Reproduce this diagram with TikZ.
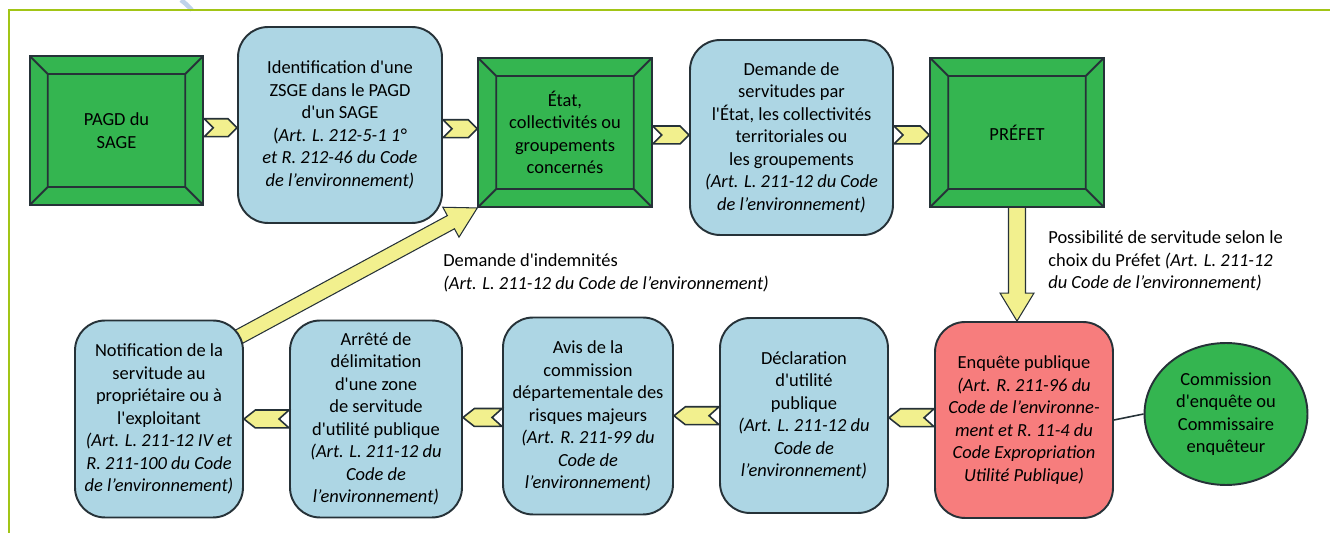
\documentclass[tikz,border=0pt]{standalone}
\usepackage{fontspec}
\setmainfont{Carlito}[Ligatures=TeXOff]
\usetikzlibrary{calc,shapes.geometric,backgrounds}

\definecolor{boxgreen}{HTML}{34B550}
\definecolor{boxblue}{HTML}{ADD6E4}
\definecolor{boxred}{HTML}{F77D7D}
\definecolor{pale}{HTML}{F2F08E}
\definecolor{framegreen}{HTML}{A2C516}
\definecolor{edge}{HTML}{263238}
\definecolor{swirl}{HTML}{BFD3EA}

\tikzset{
  every node/.style={font=\fontsize{10.5}{12.8}\selectfont, inner sep=0pt, align=center},
  bevel/.style={draw=edge, fill=boxgreen, line width=1.1pt,
    minimum width=3.47cm, minimum height=2.98cm,
    path picture={\draw[edge, line width=1.1pt]
      ([shift={(.36cm,-.36cm)}]path picture bounding box.north west) rectangle
      ([shift={(-.36cm,.36cm)}]path picture bounding box.south east)
      (path picture bounding box.north west) -- ++(.36cm,-.36cm)
      (path picture bounding box.north east) -- ++(-.36cm,-.36cm)
      (path picture bounding box.south west) -- ++(.36cm,.36cm)
      (path picture bounding box.south east) -- ++(-.36cm,.36cm);}},
  stage/.style={draw=edge, fill=boxblue, line width=1.1pt, rounded corners=.6cm,
    minimum width=3.4cm, minimum height=3.94cm},
  chev/.style={draw=edge, fill=pale, line width=.9pt, line join=miter},
  bigarrow/.style={draw=edge, fill=pale, line width=.6pt},
}

\begin{document}
\begin{tikzpicture}[x=0.02cm, y=-0.02cm]
	\useasboundingbox (0,0) rectangle (1330,533);
	% frame
	\draw[swirl, line width=2.6pt] (181,0) .. controls (186,4) .. (192,10);
	\draw[framegreen, line width=1.7pt] (1330,10) -- (9,10) -- (9,533);

	% top row
	\node[bevel] (pagd) at (116.5,130.5) {PAGD du\\SAGE};
	\node[stage, minimum width=4.08cm, minimum height=3.92cm] (ident) at (340,125)
		{Identification d'une\\ZSGE dans le PAGD\\d'un SAGE\\(\textit{Art. L. 212-5-1 1°}\\\textit{et R. 212-46 du Code}\\\textit{de l’environnement)}};
	\node[bevel] (etat) at (565,132.5) {État,\\collectivités ou\\groupements\\concernés};
	\node[stage, minimum width=4.06cm, minimum height=3.9cm] (dem) at (791.5,137.5)
		{Demande de\\servitudes par\\l'État, les collectivités\\territoriales ou\\les groupements\\\textit{(Art. L. 211-12 du Code}\\\textit{de l’environnement)}};
	\node[bevel] (prefet) at (1017,132.5) {PRÉFET};

	% bottom row
	\node[stage, fill=boxred, minimum width=3.56cm, minimum height=3.92cm] (enq) at (1024,420)
		{Enquête publique\\\textit{(Art. R. 211-96 du}\\\textit{Code de l’environne-}\\\textit{ment et R. 11-4 du}\\\textit{Code Expropriation}\\\textit{Utilité Publique)}};
	\node[ellipse, draw=edge, fill=boxgreen, line width=1.1pt, minimum width=3.26cm, minimum height=2.84cm] (comm) at (1226,414)
		{Commission\\d'enquête ou\\Commissaire\\enquêteur};
	\node[stage, minimum width=3.36cm, minimum height=3.9cm] (decl) at (804,415.5)
		{Déclaration\\d'utilité\\publique\\\textit{(Art. L. 211-12 du}\\\textit{Code de}\\\textit{l’environnement)}};
	\node[stage] (avis) at (588,416)
		{Avis de la\\commission\\départementale des\\risques majeurs\\\textit{(Art. R. 211-99 du}\\\textit{Code de}\\\textit{l’environnement)}};
	\node[stage, minimum width=3.44cm] (arrete) at (376,419)
		{Arrêté de\\délimitation\\d'une zone\\de servitude\\d'utilité publique\\\textit{(Art. L. 211-12 du}\\\textit{Code de}\\\textit{l’environnement)}};
	\node[stage, minimum width=3.36cm] (notif) at (159,419)
		{Notification de la\\servitude au\\propriétaire ou à\\l'exploitant\\\textit{(Art. L. 211-12 IV et}\\\textit{R. 211-100 du Code}\\\textit{de l’environnement)}};

	% chevrons
	\foreach \a/\b in {pagd/ident, ident/etat, etat/dem, dem/prefet}
		\draw[chev] let \p1=(\a.east), \p2=(\b.west), \p3=($(\a.east)!.5!(\b.west)$) in
			(\x1,\y3+5.1pt) -- (\x2-5.1pt,\y3+5.1pt) -- (\x2,\y3) -- (\x2-5.1pt,\y3-5.1pt)
			-- (\x1,\y3-5.1pt) -- (\x1+5.1pt,\y3) -- cycle;
	\foreach \a/\b in {enq/decl, decl/avis, avis/arrete, arrete/notif}
		\draw[chev] let \p1=(\a.west), \p2=(\b.east), \p3=($(\a.west)!.5!(\b.east)$) in
			(\x1,\y3+5.1pt) -- (\x2+6.5pt,\y3+5.1pt) -- (\x2,\y3) -- (\x2+6.5pt,\y3-5.1pt)
			-- (\x1,\y3-5.1pt) -- (\x1-5.7pt,\y3) -- cycle;

	\draw[edge, line width=.9pt] (enq.east) -- (comm.west);

	% big arrows
	\coordinate (tip) at (prefet.south |- enq.north);
	\coordinate (down) at ($(tip)!.56cm!(prefet.center)$);
	\coordinate (start) at ($(etat.south west)!1.1!(notif.45)$);
	\coordinate (head) at ($(etat.south west)!.6cm!(notif.45)$);
	\begin{scope}[on background layer]
		\draw[bigarrow] ($(prefet.center)!.17cm!90:(tip)$) -- ($(down)!.17cm!-90:(prefet.center)$)
			-- ($(down)!.34cm!-90:(prefet.center)$) -- (tip) -- ($(down)!.34cm!90:(prefet.center)$)
			-- ($(down)!.17cm!90:(prefet.center)$) -- ($(prefet.center)!.17cm!-90:(tip)$) -- cycle;
		\draw[bigarrow] ($(start)!.15cm!90:(etat.south west)$) -- ($(head)!.15cm!-90:(start)$)
			-- ($(head)!.34cm!-90:(start)$) -- (etat.south west) -- ($(head)!.34cm!90:(start)$)
			-- ($(head)!.15cm!90:(start)$) -- ($(start)!.15cm!-90:(etat.south west)$) -- cycle;
	\end{scope}

	% labels
	\node[align=left, anchor=west] (choix) at (1048,261)
		{Possibilité de servitude selon le\\choix du Préfet \textit{(Art. L. 211-12}\\\textit{du Code de l’environnement)}};
	\node[align=left, anchor=west] (indem) at (443,273)
		{Demande d'indemnités\\\textit{(Art. L. 211-12 du Code de l’environnement)}};
\end{tikzpicture}
\end{document}
